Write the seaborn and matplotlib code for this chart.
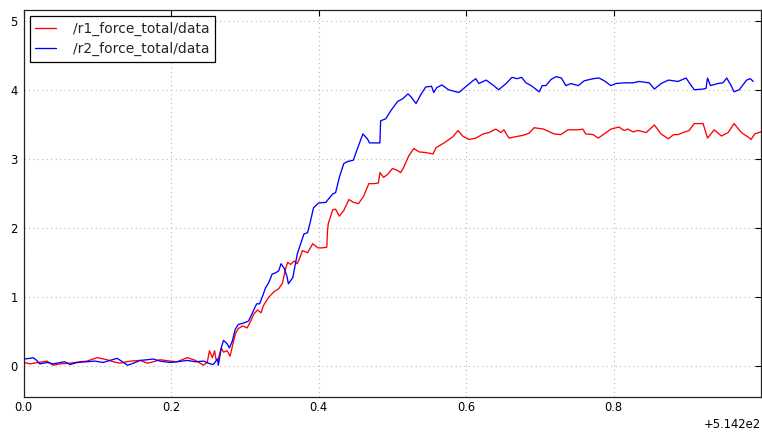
import matplotlib
matplotlib.use("Agg")
import matplotlib.pyplot as plt
from matplotlib.ticker import FuncFormatter, FixedLocator
import numpy as np
import pandas as pd
import seaborn as sns

# Time base of the recording (seconds); samples are stored relative to it
t0 = 514.2

# /r1_force_total/data : relative time [s]
r1_t = [0.000, 0.009, 0.020, 0.032, 0.040, 0.050, 0.063, 0.077, 0.086, 0.100,
        0.113, 0.122, 0.131, 0.145, 0.158, 0.168, 0.176, 0.185, 0.199, 0.208,
        0.222, 0.233, 0.244, 0.249, 0.252, 0.256, 0.259, 0.261, 0.264, 0.268,
        0.271, 0.276, 0.280, 0.284, 0.287, 0.291, 0.297, 0.303, 0.308, 0.312,
        0.317, 0.322, 0.325, 0.332, 0.339, 0.346, 0.351, 0.355, 0.358, 0.362,
        0.367, 0.371, 0.375, 0.378, 0.385, 0.392, 0.399, 0.405, 0.411, 0.412,
        0.413, 0.419, 0.423, 0.428, 0.434, 0.441, 0.447, 0.454, 0.461, 0.468,
        0.475, 0.481, 0.483, 0.488, 0.494, 0.500, 0.507, 0.511, 0.515, 0.522,
        0.529, 0.536, 0.545, 0.555, 0.559, 0.570, 0.582, 0.589, 0.595, 0.604,
        0.613, 0.623, 0.631, 0.640, 0.647, 0.651, 0.658, 0.667, 0.677, 0.685,
        0.692, 0.705, 0.719, 0.728, 0.738, 0.752, 0.758, 0.762, 0.772, 0.779,
        0.787, 0.796, 0.807, 0.814, 0.819, 0.826, 0.833, 0.844, 0.855, 0.864,
        0.874, 0.881, 0.887, 0.894, 0.902, 0.909, 0.921, 0.927, 0.936, 0.946,
        0.955, 0.963, 0.973, 0.984, 0.986, 0.991, 0.999]
# /r1_force_total/data : force
r1_f = [0.05, 0.03, 0.05, 0.07, 0.01, 0.03, 0.04, 0.06, 0.07, 0.12,
        0.09, 0.06, 0.04, 0.07, 0.08, 0.04, 0.06, 0.09, 0.07, 0.06,
        0.12, 0.08, 0.01, 0.05, 0.22, 0.12, 0.22, 0.09, 0.10, 0.26,
        0.20, 0.22, 0.14, 0.33, 0.46, 0.54, 0.58, 0.55, 0.65, 0.75,
        0.81, 0.77, 0.87, 0.99, 1.07, 1.12, 1.20, 1.40, 1.50, 1.47,
        1.52, 1.48, 1.58, 1.67, 1.64, 1.77, 1.71, 1.71, 1.72, 1.95,
        2.06, 2.26, 2.27, 2.17, 2.25, 2.41, 2.37, 2.35, 2.46, 2.64,
        2.64, 2.65, 2.80, 2.73, 2.78, 2.86, 2.83, 2.80, 2.87, 3.04,
        3.15, 3.10, 3.09, 3.07, 3.16, 3.23, 3.32, 3.41, 3.33, 3.28,
        3.30, 3.36, 3.38, 3.43, 3.38, 3.42, 3.30, 3.32, 3.34, 3.37,
        3.45, 3.43, 3.36, 3.35, 3.42, 3.42, 3.43, 3.36, 3.35, 3.30,
        3.36, 3.43, 3.46, 3.41, 3.43, 3.39, 3.41, 3.38, 3.49, 3.36,
        3.29, 3.35, 3.35, 3.38, 3.41, 3.51, 3.51, 3.30, 3.42, 3.33,
        3.38, 3.51, 3.38, 3.30, 3.28, 3.36, 3.39]

# /r2_force_total/data : relative time [s]
r2_t = [0.000, 0.009, 0.013, 0.018, 0.022, 0.032, 0.040, 0.050, 0.056, 0.063,
        0.073, 0.086, 0.097, 0.108, 0.117, 0.127, 0.134, 0.141, 0.149, 0.158,
        0.168, 0.176, 0.185, 0.199, 0.208, 0.222, 0.233, 0.244, 0.253, 0.257,
        0.263, 0.264, 0.268, 0.271, 0.276, 0.279, 0.283, 0.287, 0.291, 0.298,
        0.305, 0.312, 0.316, 0.320, 0.324, 0.328, 0.332, 0.337, 0.342, 0.346,
        0.349, 0.353, 0.357, 0.359, 0.365, 0.371, 0.375, 0.380, 0.385, 0.389,
        0.393, 0.400, 0.410, 0.412, 0.419, 0.423, 0.428, 0.434, 0.439, 0.447,
        0.453, 0.460, 0.466, 0.469, 0.483, 0.484, 0.491, 0.498, 0.507, 0.514,
        0.521, 0.525, 0.532, 0.538, 0.545, 0.553, 0.556, 0.560, 0.567, 0.576,
        0.590, 0.599, 0.609, 0.613, 0.617, 0.627, 0.636, 0.644, 0.654, 0.662,
        0.669, 0.675, 0.681, 0.688, 0.699, 0.703, 0.708, 0.715, 0.722, 0.729,
        0.735, 0.742, 0.752, 0.760, 0.772, 0.780, 0.787, 0.796, 0.803, 0.814,
        0.826, 0.834, 0.848, 0.855, 0.864, 0.874, 0.887, 0.898, 0.903, 0.909,
        0.921, 0.925, 0.927, 0.931, 0.941, 0.948, 0.953, 0.959, 0.963, 0.970,
        0.980, 0.985, 0.989]
# /r2_force_total/data : force
r2_f = [0.10, 0.11, 0.12, 0.08, 0.03, 0.05, 0.03, 0.05, 0.06, 0.02,
        0.05, 0.06, 0.07, 0.05, 0.08, 0.11, 0.06, 0.01, 0.04, 0.08,
        0.09, 0.10, 0.07, 0.05, 0.06, 0.08, 0.06, 0.07, 0.03, 0.02,
        0.10, 0.01, 0.26, 0.37, 0.32, 0.26, 0.36, 0.53, 0.60, 0.62,
        0.65, 0.81, 0.90, 0.90, 1.01, 1.13, 1.20, 1.33, 1.35, 1.38,
        1.48, 1.42, 1.30, 1.19, 1.28, 1.62, 1.75, 1.91, 1.93, 2.10,
        2.29, 2.36, 2.37, 2.40, 2.49, 2.51, 2.73, 2.93, 2.96, 2.98,
        3.16, 3.36, 3.29, 3.23, 3.23, 3.55, 3.58, 3.70, 3.83, 3.87,
        3.94, 3.90, 3.80, 3.92, 4.04, 4.05, 3.96, 4.03, 4.07, 4.00,
        3.96, 4.04, 4.13, 4.16, 4.09, 4.14, 4.07, 4.00, 4.09, 4.18,
        4.16, 4.18, 4.10, 4.06, 3.97, 4.06, 4.06, 4.15, 4.19, 4.17,
        4.06, 4.09, 4.06, 4.13, 4.16, 4.17, 4.13, 4.06, 4.09, 4.10,
        4.10, 4.12, 4.10, 4.01, 4.09, 4.14, 4.12, 4.17, 4.09, 4.00,
        4.01, 4.02, 4.17, 4.06, 4.09, 4.10, 4.17, 4.06, 3.97, 4.00,
        4.14, 4.16, 4.12]

x_ticks = [0.0, 0.2, 0.4, 0.6, 0.8]
y_ticks = [0, 1, 2, 3, 4, 5]
series_names = ["/r1_force_total/data", "/r2_force_total/data"]
series_colors = ["#ff0000", "#0000ff"]

sns.set_theme(style="white")
plt.rcParams["font.family"] = ["DejaVu Sans"]

fig = plt.figure(figsize=(7.62, 4.32), dpi=100)
ax = fig.add_axes([23.5 / 762, 35 / 432, 737.5 / 762, 387 / 432])

frames = [
    pd.DataFrame({"time": t0 + np.asarray(r1_t), "force": r1_f}),
    pd.DataFrame({"time": t0 + np.asarray(r2_t), "force": r2_f}),
]
for df, name, color in zip(frames, series_names, series_colors):
    sns.lineplot(data=df, x="time", y="force", ax=ax, color=color,
                 label=name, linewidth=0.95, estimator=None, sort=False)

ax.set_xlim(t0, t0 + 0.9995)
ax.set_ylim(-0.45, 5.155)

ax.xaxis.set_major_locator(FixedLocator([t0 + v for v in x_ticks]))
fmt = FuncFormatter(lambda v, pos: f"{v - t0:.1f}")
fmt.set_offset_string("+5.142e2")
ax.xaxis.set_major_formatter(fmt)
ax.set_yticks(y_ticks)
ax.set_xlabel("")
ax.set_ylabel("")

ax.tick_params(axis="both", which="major", direction="in", length=4,
               width=0.8, labelsize=8.3, colors="black",
               top=True, right=True)
ax.tick_params(axis="x", pad=3)
ax.tick_params(axis="y", pad=4)
ax.xaxis.get_offset_text().set_fontsize(8.3)

ax.grid(True, color="#b8b8b8", linestyle=(0, (1, 3)), linewidth=0.8)
for sp in ax.spines.values():
    sp.set_color("#222222")
    sp.set_linewidth(0.9)

leg = ax.legend(loc="upper left", fontsize=10, frameon=True, fancybox=False,
                edgecolor="black", framealpha=1.0, handlelength=1.5,
                handletextpad=1.2, borderaxespad=0.45, labelspacing=0.45,
                borderpad=0.4)
leg.get_frame().set_linewidth(0.9)

fig.savefig("out.png", dpi=100)
